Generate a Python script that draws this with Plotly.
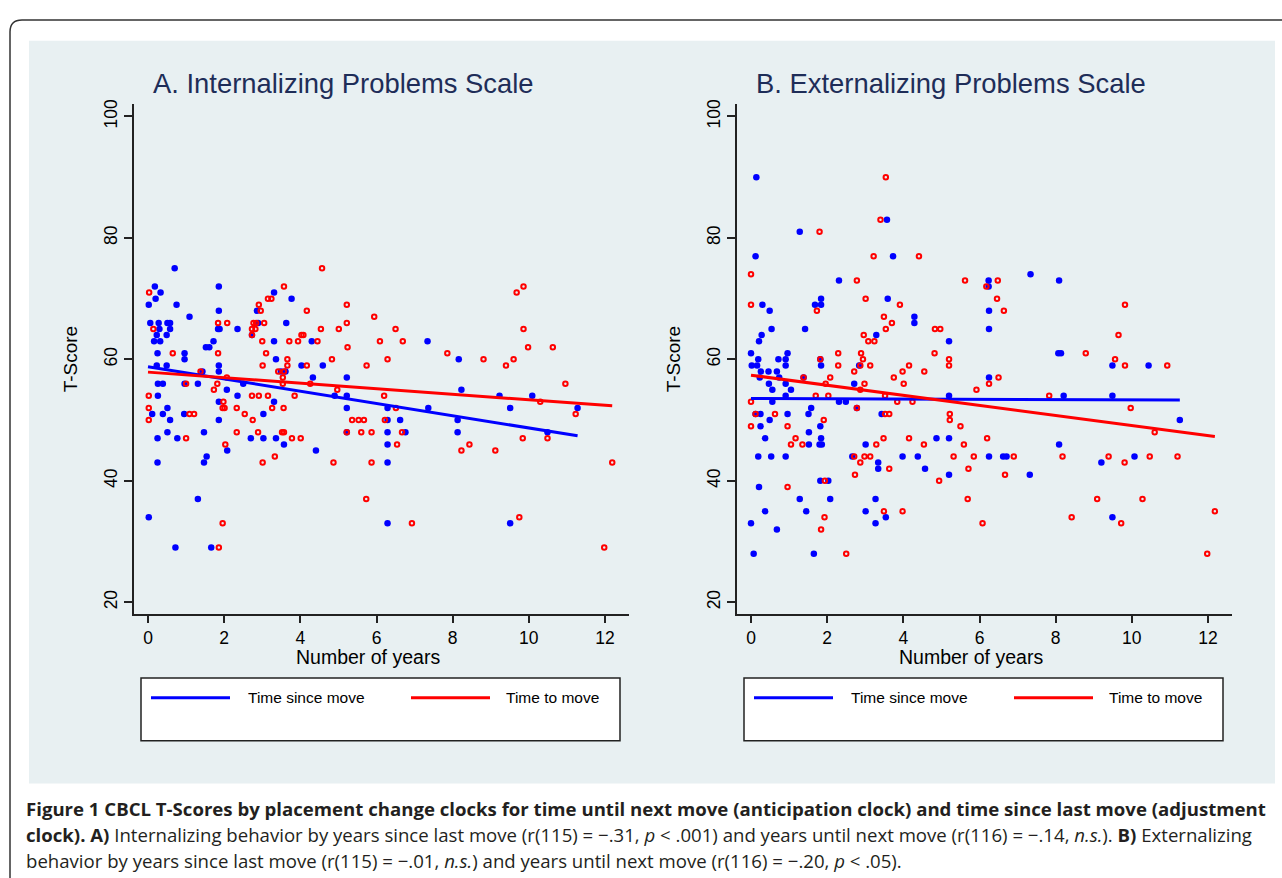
import plotly.graph_objects as go

W, H = 1282, 878

# ---------------- data ----------------
# Panel A: Internalizing, blue = time since move (filled), red = time to move (open)
a_since = [(0.7, 75), (0.18, 72), (0.33, 71), (0.2, 70), (1.86, 72), (0.02, 69), (0.75, 69), (1.09, 67),
           (1.86, 68), (0.06, 66), (0.28, 66), (0.51, 66), (0.58, 66), (0.3, 65), (0.58, 65), (0.23, 64),
           (0.49, 64), (0.16, 63), (0.32, 63), (0.25, 61), (0.96, 61), (0.96, 60), (1.84, 65), (1.88, 65),
           (2.35, 65), (1.72, 63), (1.52, 62), (1.61, 62), (1.86, 59), (1.86, 58), (0.23, 59), (0.49, 59),
           (1.43, 58), (0.26, 56), (0.39, 56), (0.96, 56), (1.31, 56), (2.07, 55), (2.5, 56), (0.26, 54),
           (2.35, 54), (0.51, 52), (0.11, 51), (0.39, 51), (0.58, 50), (0.95, 51), (1.86, 53), (1.86, 50),
           (3.03, 51), (3.31, 53), (0.51, 48), (0.25, 47), (0.77, 47), (1.47, 48), (2.7, 47), (3.03, 47),
           (3.36, 47), (3.57, 46), (2.08, 45), (1.54, 44), (1.47, 43), (0.25, 43), (1.31, 37), (0.02, 34),
           (0.72, 29), (1.66, 29), (3.31, 71), (3.77, 70), (2.86, 68), (2.89, 66), (3.63, 66), (2.73, 64),
           (3.31, 63), (4.3, 63), (3.36, 60), (4.03, 59), (3.49, 58), (3.61, 58),
           (7.34, 63), (8.16, 60), (4.59, 59), (4.33, 57), (5.22, 57), (4.9, 54), (5.22, 54), (5.22, 52),
           (6.29, 52), (7.36, 52), (8.23, 55), (6.29, 50), (6.62, 50), (8.13, 50), (5.22, 48), (6.29, 48),
           (6.76, 48), (8.13, 48), (6.29, 46), (4.41, 45), (6.29, 43), (6.29, 33),
           (9.23, 54), (10.09, 54), (9.51, 52), (11.28, 52), (10.49, 48), (9.51, 33)]

a_to = [(0.03, 71), (0.14, 65), (0.65, 61), (1.84, 66), (2.08, 66), (1.84, 61), (1.38, 58), (1.0, 56),
        (1.82, 56), (1.73, 55), (2.07, 57), (0.02, 54), (0.02, 52), (0.02, 50), (1.09, 51), (1.21, 51),
        (1.98, 53), (1.96, 52), (2.01, 52), (2.33, 52), (2.54, 51), (2.75, 50), (2.73, 54), (2.91, 54),
        (3.15, 54), (3.26, 52), (3.56, 52), (3.85, 54), (1.0, 47), (2.33, 48), (2.89, 48), (3.52, 48),
        (3.57, 48), (3.78, 47), (4.01, 47), (2.03, 46), (3.01, 43), (3.33, 44), (1.96, 33), (1.86, 29),
        (3.57, 72), (3.15, 70), (3.24, 70), (2.91, 69), (2.96, 68), (4.17, 68), (2.77, 66), (2.84, 66),
        (3.05, 66), (2.73, 65), (2.82, 65), (2.73, 64), (3.0, 63), (3.71, 63), (3.94, 63), (4.03, 64),
        (4.08, 64), (3.1, 61), (3.66, 60), (3.01, 59), (3.66, 59), (4.17, 59), (3.42, 58), (3.57, 58),
        (3.54, 57), (3.54, 56), (4.26, 56),
        (4.57, 75), (5.22, 69), (5.94, 67), (5.22, 66), (4.54, 65), (5.01, 65), (6.5, 65), (4.45, 63),
        (6.09, 63), (6.69, 63), (5.24, 62), (4.83, 60), (6.29, 60), (7.86, 61), (5.74, 59), (4.97, 55),
        (6.2, 54), (6.51, 52), (5.36, 50), (5.53, 50), (5.67, 50), (6.22, 50), (5.22, 48), (5.6, 48),
        (5.87, 48), (6.67, 48), (6.54, 46), (8.23, 45), (8.44, 46), (4.87, 43), (5.87, 43), (5.73, 37),
        (6.93, 33),
        (9.86, 72), (9.68, 71), (9.86, 65), (9.98, 62), (10.63, 62), (8.81, 60), (9.6, 60), (9.4, 59),
        (10.96, 56), (10.3, 53), (11.23, 51), (9.84, 47), (10.49, 47), (9.12, 45), (12.19, 43),
        (9.75, 34), (11.98, 29)]

# Panel B: Externalizing
b_since = [(0.14, 90), (3.57, 83), (1.28, 81), (0.12, 77), (3.73, 77), (2.31, 73), (3.59, 70), (1.84, 70),
           (1.68, 69), (1.84, 69), (0.3, 69), (0.49, 68), (0.54, 65), (1.42, 65), (0.28, 64), (0.21, 63),
           (3.29, 64), (0.0, 61), (0.19, 60), (0.72, 60), (0.91, 60), (0.96, 61), (1.82, 60), (0.02, 59),
           (0.16, 59), (0.91, 59), (1.84, 59), (2.84, 59), (0.26, 58), (0.46, 58), (0.68, 58), (0.23, 57),
           (0.74, 57), (1.38, 57), (0.47, 56), (0.91, 56), (2.71, 56), (0.56, 55), (1.05, 55), (0.91, 54),
           (0.56, 53), (2.31, 53), (2.49, 53), (1.58, 52), (2.78, 52), (0.12, 51), (0.25, 51), (0.96, 51),
           (1.51, 51), (3.43, 51), (0.49, 50), (0.25, 49), (1.82, 49), (1.52, 48), (0.37, 47), (1.84, 47),
           (1.52, 46), (1.8, 46), (1.86, 46), (3.01, 46), (0.19, 44), (0.53, 44), (0.91, 44), (2.66, 44),
           (3.34, 43), (3.34, 42), (3.98, 44), (1.82, 40), (2.03, 40), (0.21, 39), (1.28, 37), (2.08, 37),
           (3.27, 37), (0.37, 35), (1.45, 35), (3.01, 35), (0.0, 33), (0.68, 32), (3.27, 33), (3.54, 34),
           (0.07, 28), (1.65, 28),
           (6.24, 73), (6.24, 72), (7.34, 74), (8.09, 73), (4.29, 67), (4.29, 66), (6.25, 68), (6.25, 65),
           (5.2, 63), (6.25, 57), (8.07, 61), (8.14, 61), (5.2, 54), (8.21, 54), (4.87, 47), (5.2, 47),
           (8.09, 46), (4.38, 44), (6.25, 44), (6.62, 44), (6.71, 44), (4.57, 42), (5.2, 41), (7.32, 41),
           (9.49, 59), (10.44, 59), (9.49, 54), (11.26, 50), (10.07, 44), (9.2, 43), (9.49, 34)]

b_to = [(3.54, 90), (3.4, 83), (1.8, 81), (3.22, 77), (0.0, 74), (2.78, 73), (3.01, 70), (1.73, 68),
        (0.0, 69), (3.91, 69), (3.49, 67), (3.7, 66), (3.54, 65), (2.96, 64), (3.08, 63), (3.24, 63),
        (1.82, 60), (2.29, 61), (2.89, 61), (2.94, 60), (2.29, 59), (2.87, 59), (3.13, 59), (1.38, 57),
        (2.08, 57), (2.71, 58), (3.75, 57), (3.98, 58), (1.96, 56), (2.98, 56), (4.01, 56), (2.87, 55),
        (1.7, 54), (2.03, 54), (3.52, 54), (0.0, 53), (3.84, 53), (2.78, 52), (0.12, 51), (0.63, 51),
        (3.52, 51), (3.63, 51), (1.91, 50), (0.0, 49), (0.96, 49), (1.17, 47), (3.48, 47), (1.05, 46),
        (1.35, 46), (3.29, 46), (2.71, 44), (2.98, 44), (3.13, 44), (2.87, 43), (3.63, 42), (2.73, 41),
        (1.94, 40), (0.96, 39), (3.49, 35), (3.98, 35), (1.93, 34), (1.84, 32), (2.5, 28),
        (4.41, 77), (5.62, 73), (6.48, 73), (6.18, 72), (6.46, 70), (6.64, 68), (4.83, 65), (4.97, 65),
        (4.82, 61), (5.2, 60), (5.2, 59), (4.15, 59), (4.55, 58), (6.5, 57), (6.25, 56), (5.92, 55),
        (7.83, 54), (4.24, 53), (5.22, 51), (5.22, 50), (5.5, 49), (4.15, 47), (4.54, 46), (5.59, 46),
        (6.2, 47), (5.32, 44), (5.85, 44), (6.9, 44), (8.18, 44), (5.71, 42), (6.67, 41), (4.94, 40),
        (5.69, 37), (6.08, 33),
        (9.82, 69), (9.65, 64), (8.79, 61), (9.56, 60), (9.82, 59), (10.93, 59), (9.97, 52), (10.6, 48),
        (9.39, 44), (10.47, 44), (11.2, 44), (9.81, 43), (9.09, 37), (10.28, 37), (8.42, 34), (9.72, 33),
        (12.18, 35), (11.98, 28)]

# fitted regression lines: (intercept, slope)
fit_a_since = (58.8, -1.01)
fit_a_to = (57.9, -0.455)
fit_b_since = (53.55, -0.02)
fit_b_to = (57.4, -0.83)

x_ticks = [0, 2, 4, 6, 8, 10, 12]
y_ticks = [20, 40, 60, 80, 100]
panel_titles = ["A. Internalizing Problems Scale", "B. Externalizing Problems Scale"]
legend_labels = ["Time since move", "Time to move"]
x_title = "Number of years"
y_title = "T-Score"

caption_lines = [
    "<b>Figure 1 CBCL T-Scores by placement change clocks for time until next move (anticipation clock) and time since last move (adjustment</b>",
    "<b>clock). A)</b> Internalizing behavior by years since last move (r(115) = \u2212.31, <i>p</i> &lt; .001) and years until next move (r(116) = \u2212.14, <i>n.s.</i>). <b>B)</b> Externalizing",
    "behavior by years since last move (r(115) = \u2212.01, <i>n.s.</i>) and years until next move (r(116) = \u2212.20, <i>p</i> &lt; .05).",
]

# ---------------- styling ----------------
BLUE = "#0000ff"
RED = "#ff0000"
BG = "#e8f0f2"
TITLE_C = "#1e2d58"
FONT = "Liberation Sans, Arial, sans-serif"


def px(x):
    return x / W


def py(y):
    return 1 - y / H


fig = go.Figure()

panels = [
    ("x", "y", a_since, a_to, fit_a_since, fit_a_to),
    ("x2", "y2", b_since, b_to, fit_b_since, fit_b_to),
]

for xa, ya, since, to, fs, ft in panels:
    sx, sy = zip(*since)
    tx, ty = zip(*to)
    fig.add_trace(go.Scatter(x=sx, y=sy, mode="markers", xaxis=xa, yaxis=ya,
                             marker=dict(color=BLUE, size=6.5, line=dict(width=0)),
                             showlegend=False, hoverinfo="skip"))
    fig.add_trace(go.Scatter(x=tx, y=ty, mode="markers", xaxis=xa, yaxis=ya,
                             marker=dict(symbol="circle-open", color=RED, size=4.5,
                                         line=dict(width=2, color=RED)),
                             showlegend=False, hoverinfo="skip"))
    for (a, b), xs, col in [(fs, sx, BLUE), (ft, tx, RED)]:
        x0, x1 = 0, max(xs)
        fig.add_trace(go.Scatter(x=[x0, x1], y=[a + b * x0, a + b * x1], mode="lines",
                                 xaxis=xa, yaxis=ya, line=dict(color=col, width=3),
                                 showlegend=False, hoverinfo="skip"))

# axis geometry (pixels)
ytop, ybot = 100, 613
A_left, A_right = 133.5, 628.5
B_left, B_right = 736.5, 1231.5
x0px_A, unit_x = 148.0, 38.083
x0px_B = 751.0
yunit = 6.1
y_range = [20 - (ybot - 601) / yunit, 100 + (113 - ytop) / yunit]


def xrange_for(left, right, zero):
    return [(left - zero) / unit_x, (right - zero) / unit_x]


common_x = dict(tickvals=x_ticks, ticks="outside", ticklen=7, tickwidth=1.5, tickcolor="#222",
                showline=True, linecolor="#222", linewidth=1.5, showgrid=False, zeroline=False,
                tickfont=dict(family=FONT, size=17.5, color="black"), fixedrange=True)
common_y = dict(tickvals=y_ticks, tickangle=-90, ticks="outside", ticklen=8, tickwidth=1.5,
                tickcolor="#222", showline=True, linecolor="#222", linewidth=1.5, showgrid=True,
                gridcolor=BG, gridwidth=2, zeroline=False,
                tickfont=dict(family=FONT, size=17.5, color="black"), fixedrange=True,
                range=y_range, domain=[py(ybot), py(ytop)])

fig.update_layout(
    width=W, height=H, margin=dict(l=0, r=0, t=0, b=0),
    paper_bgcolor="white", plot_bgcolor="white",
    xaxis=dict(common_x, domain=[px(A_left), px(A_right)], range=xrange_for(A_left, A_right, x0px_A), anchor="y"),
    yaxis=dict(common_y, anchor="x"),
    xaxis2=dict(common_x, domain=[px(B_left), px(B_right)], range=xrange_for(B_left, B_right, x0px_B), anchor="y2"),
    yaxis2=dict(common_y, anchor="x2"),
    showlegend=False,
)

shapes = []
# light panel background
shapes.append(dict(type="rect", xref="paper", yref="paper", x0=px(29), x1=px(1275), y0=py(783), y1=py(37),
                   fillcolor=BG, line=dict(width=0), layer="below"))
# outer rounded frame
frame = (f"M {px(10)},{py(880)} L {px(10)},{py(28)} Q {px(10)},{py(16)} {px(22)},{py(16)} "
         f"L {px(1284)},{py(16)}")
shapes.append(dict(type="path", xref="paper", yref="paper", path=frame, line=dict(color="#333", width=1.5)))

annotations = []
for i, (off, title) in enumerate(zip([0, 603], panel_titles)):
    # title
    annotations.append(dict(xref="paper", yref="paper", x=px(151 + off), y=py(80), text=title,
                            showarrow=False, xanchor="left", yanchor="middle",
                            font=dict(family=FONT, size=27.4, color=TITLE_C)))
    # axis titles
    annotations.append(dict(xref="paper", yref="paper", x=px(368 + off), y=py(656), text=x_title,
                            showarrow=False, xanchor="center", yanchor="middle",
                            font=dict(family=FONT, size=19.5, color="black")))
    annotations.append(dict(xref="paper", yref="paper", x=px(70 + off), y=py(357), text=y_title,
                            showarrow=False, xanchor="center", yanchor="middle", textangle=-90,
                            font=dict(family=FONT, size=19, color="black")))
    # legend box
    shapes.append(dict(type="rect", xref="paper", yref="paper", x0=px(141 + off), x1=px(620 + off),
                       y0=py(740), y1=py(677), fillcolor="white", line=dict(color="#222", width=1.5)))
    for (lx0, lx1, tx), col, lab in zip([(151, 230, 246), (411, 490, 504)], [BLUE, RED], legend_labels):
        shapes.append(dict(type="line", xref="paper", yref="paper", x0=px(lx0 + off), x1=px(lx1 + off),
                           y0=py(697), y1=py(697), line=dict(color=col, width=3)))
        annotations.append(dict(xref="paper", yref="paper", x=px(tx + off), y=py(697), text=lab,
                                showarrow=False, xanchor="left", yanchor="middle",
                                font=dict(family=FONT, size=15.5, color="black")))

for k, line in enumerate(caption_lines):
    annotations.append(dict(xref="paper", yref="paper", x=px(24), y=py(808 + 26 * k), text=line,
                            showarrow=False, xanchor="left", yanchor="middle", align="left",
                            font=dict(family="Open Sans, sans-serif", size=18.6, color="#231f20")))

fig.update_layout(shapes=shapes, annotations=annotations)

fig.write_html("out.html", config={"displayModeBar": False},
               post_script="document.body.style.margin='0';document.body.style.overflow='hidden';")
